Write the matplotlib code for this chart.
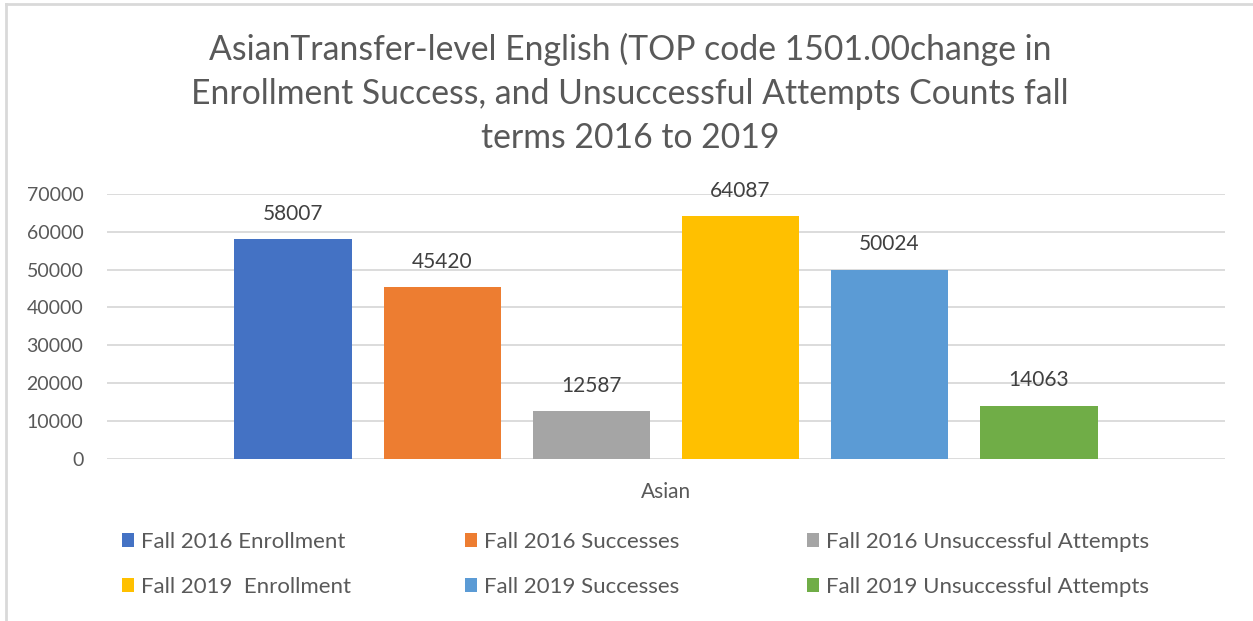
import matplotlib
matplotlib.use("Agg")
import matplotlib.pyplot as plt
from matplotlib.lines import Line2D

categories = ["Asian"]
series_names = ["Fall 2016 Enrollment", "Fall 2016 Successes", "Fall 2016 Unsuccessful Attempts",
                "Fall 2019  Enrollment", "Fall 2019 Successes", "Fall 2019 Unsuccessful Attempts"]
series_values = [[58007], [45420], [12587], [64087], [50024], [14063]]
colors = ["#4472C4", "#ED7D31", "#A5A5A5", "#FFC000", "#5B9BD5", "#70AD47"]
yticks = [0, 10000, 20000, 30000, 40000, 50000, 60000, 70000]
title = ("AsianTransfer-level English (TOP code 1501.00change in\n"
         "Enrollment Success, and Unsuccessful Attempts Counts fall\n"
         "terms 2016 to 2019")

plt.rcParams['font.family'] = ['Lato', 'DejaVu Sans']
txt = "#595959"

fig = plt.figure(figsize=(12.53, 6.21), dpi=100)
ax = fig.add_axes([107/1253, 1-458.7/621, (1225-107)/1253, (458.7-194)/621])

n = len(series_names)
slot = 0.8 / n
bw = slot * 0.79
bars = []
for i, (name, vals, c) in enumerate(zip(series_names, series_values, colors)):
    xs = [j - 0.4 + slot * (i + 0.5) for j in range(len(categories))]
    b = ax.bar(xs, vals, width=bw, color=c, label=name, zorder=3)
    bars.append(b)
    for x, v in zip(xs, vals):
        ax.annotate(str(v), (x, v), xytext=(0, 11), textcoords="offset points",
                    ha="center", va="bottom", fontsize=15, color="#404040")

ax.set_xlim(-0.5, len(categories) - 0.5)
ax.set_ylim(0, 70000)
ax.set_yticks(yticks)
ax.set_yticklabels([str(t) for t in yticks])
ax.set_xticks(range(len(categories)))
ax.set_xticklabels(categories)
ax.tick_params(axis='both', length=0, labelsize=14, labelcolor=txt)
ax.tick_params(axis='y', pad=17)
ax.tick_params(axis='x', pad=17, labelsize=15)
ax.grid(axis='y', color="#D9D9D9", linewidth=1.3, zorder=0)
for s in ax.spines.values():
    s.set_visible(False)

t = fig.text(630/1253, 1-93/621, title, ha="center", va="center", fontsize=24.3,
             color=txt, linespacing=1.46)

# legend: three columns
col_x = [122/1253, 465/1253, 807/1253]
for k in range(3):
    hs = [bars[k], bars[k + 3]]
    ls = [series_names[k], series_names[k + 3]]
    fig.legend(hs, ls, loc="upper left", bbox_to_anchor=(col_x[k], 1-532/621),
               frameon=False, fontsize=16, labelcolor=txt, handlelength=0.55,
               handleheight=0.55, handletextpad=0.3, borderpad=0, borderaxespad=0,
               labelspacing=1.12)

# chart frame (left and top visible)
fig.add_artist(Line2D([6/1253, 6/1253], [0, 1-4/621], color="#D9D9D9", lw=2,
                      transform=fig.transFigure))
fig.add_artist(Line2D([6/1253, 1], [1-4/621, 1-4/621], color="#D9D9D9", lw=2,
                      transform=fig.transFigure))

fig.savefig("out.png", dpi=100)
